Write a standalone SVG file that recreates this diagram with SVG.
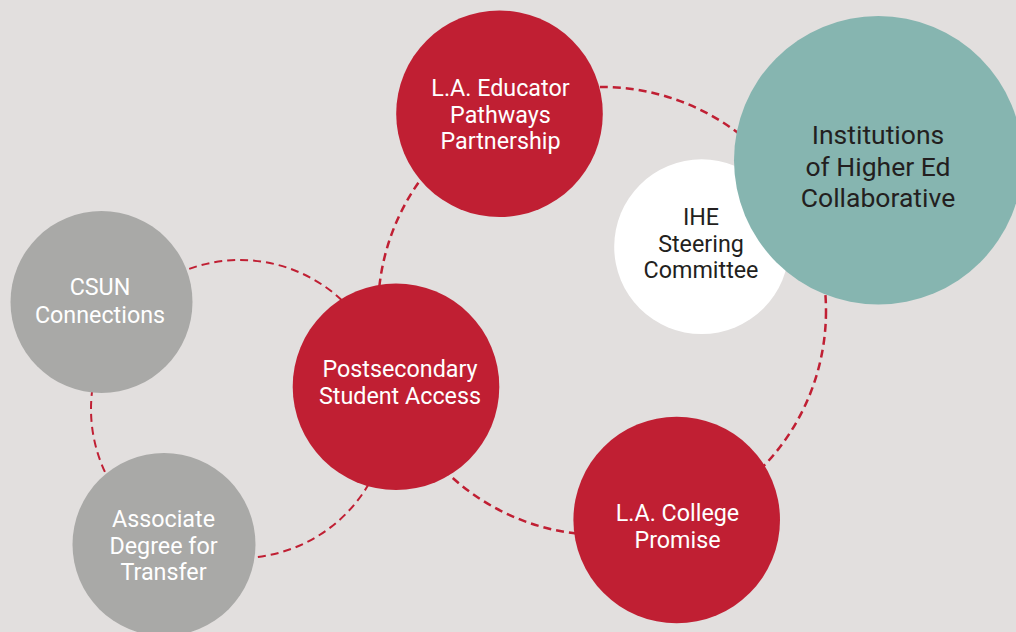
<svg xmlns="http://www.w3.org/2000/svg" width="1016" height="632" viewBox="0 0 1016 632">
  <style>
    .bg { fill: #e2dfde; }
    .red { fill: #c01f33; }
    .grey { fill: #a9a9a7; }
    .teal { fill: #86b5b0; }
    .white { fill: #ffffff; }
    .dash { fill: none; stroke: #c01f33; stroke-dasharray: 8 5; }
    .lbl { font-family: Roboto, "Liberation Sans", sans-serif; font-size: 23.3px; text-anchor: middle; fill: #ffffff; }
    .dark { fill: #231f20; }
    .big { font-size: 26.5px; }
  </style>
  <rect class="bg" x="0" y="0" width="1016" height="632"/>
  <g id="connectors">
    <circle class="dash" cx="602" cy="311" r="224" stroke-width="2.5"/>
    <circle class="dash" cx="240" cy="409" r="149" stroke-width="2"/>
  </g>
  <g id="csun">
    <circle class="grey" cx="101.5" cy="302" r="91"/>
    <text class="lbl" x="100" y="295">CSUN</text>
    <text class="lbl" x="100" y="322.5">Connections</text>
  </g>
  <g id="adt">
    <circle class="grey" cx="164" cy="544.5" r="91.5"/>
    <text class="lbl" x="163.5" y="527">Associate</text>
    <text class="lbl" x="163.5" y="554">Degree for</text>
    <text class="lbl" x="163.5" y="580">Transfer</text>
  </g>
  <g id="postsecondary">
    <circle class="red" cx="396" cy="386.7" r="103.3"/>
    <text class="lbl" x="400" y="376.5">Postsecondary</text>
    <text class="lbl" x="400" y="404">Student Access</text>
  </g>
  <g id="educator">
    <circle class="red" cx="499.5" cy="113.7" r="103.3"/>
    <text class="lbl" x="500.5" y="96">L.A. Educator</text>
    <text class="lbl" x="500.5" y="122.5">Pathways</text>
    <text class="lbl" x="500.5" y="148.5">Partnership</text>
  </g>
  <g id="promise">
    <circle class="red" cx="676.7" cy="520" r="103.3"/>
    <text class="lbl" x="677.5" y="520.5">L.A. College</text>
    <text class="lbl" x="677.5" y="547.5">Promise</text>
  </g>
  <g id="steering">
    <circle class="white" cx="701.6" cy="246.7" r="87.4"/>
    <text class="lbl dark" x="701" y="225">IHE</text>
    <text class="lbl dark" x="701" y="251.5">Steering</text>
    <text class="lbl dark" x="701" y="277.5">Committee</text>
  </g>
  <g id="ihe">
    <circle class="teal" cx="878.3" cy="160.2" r="144.3"/>
    <text class="lbl dark big" x="878" y="144">Institutions</text>
    <text class="lbl dark big" x="878" y="176">of Higher Ed</text>
    <text class="lbl dark big" x="878" y="207">Collaborative</text>
  </g>
</svg>
